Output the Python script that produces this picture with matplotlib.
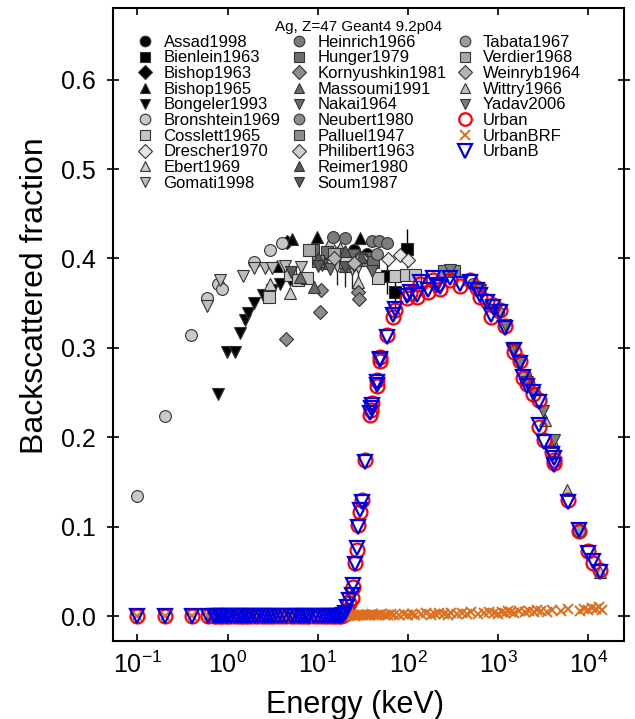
import matplotlib
matplotlib.use('Agg')
import matplotlib.pyplot as plt
from matplotlib.patches import Patch
from matplotlib.ticker import FixedLocator, NullLocator, FormatStrFormatter

plt.rcParams['font.family'] = ['Liberation Sans', 'DejaVu Sans']

# Experimental data (energy in keV, backscattered fraction)
assad_e = [25, 35]
assad_y = [0.410, 0.405]
bienlein_e = [59, 72, 97]
bienlein_y = [0.380, 0.362, 0.411]
bienlein_err = [0.020, 0.020, 0.022]
bishop63_e = [4.6]
bishop63_y = [0.418]
bishop65_e = [3.5, 5.2, 9.8, 29.6]
bishop65_y = [0.392, 0.422, 0.424, 0.423]
bongeler_e = [0.79, 0.98, 1.21, 1.38, 1.56, 1.70, 1.97, 2.49, 3.09, 3.8, 4.9]
bongeler_y = [0.249, 0.296, 0.296, 0.317, 0.331, 0.339, 0.350, 0.359, 0.365, 0.372, 0.376]
bronshtein_e = [0.1, 0.2, 0.39, 0.59, 0.78, 0.87, 1.97, 2.96, 4.0]
bronshtein_y = [0.135, 0.224, 0.314, 0.356, 0.372, 0.366, 0.396, 0.410, 0.417]
cosslett_e = [2.9, 4.9, 6.0, 7.5, 47, 72, 96, 120]
cosslett_y = [0.357, 0.381, 0.376, 0.378, 0.378, 0.380, 0.381, 0.382]
drescher_e = [60, 82, 100]
drescher_y = [0.399, 0.404, 0.398]
ebert_e = [2.96, 4.9, 13.5, 17.5, 28]
ebert_y = [0.372, 0.361, 0.418, 0.412, 0.374]
gomati_e = [0.59, 0.83, 1.47, 1.97, 2.6, 3.1, 4.3, 6.5, 16.3, 20, 23.8, 28.1]
gomati_y = [0.347, 0.376, 0.380, 0.389, 0.389, 0.389, 0.392, 0.390, 0.392, 0.390, 0.388, 0.391]
gomati_err = [0, 0, 0, 0, 0, 0, 0, 0, 0.022, 0.022, 0.022, 0.022]
heinrich_e = [14.8, 20, 39.8, 48, 58]
heinrich_y = [0.424, 0.423, 0.420, 0.419, 0.417]
hunger_e = [8.9, 12.7, 17.6, 24.7, 34.6, 41]
hunger_y = [0.409, 0.407, 0.405, 0.404, 0.400, 0.396]
kornyushkin_e = [4.5, 10.7, 10.9, 28, 28.5]
kornyushkin_y = [0.310, 0.340, 0.365, 0.363, 0.355]
massoumi_e = [6.3, 9.0, 12, 20]
massoumi_y = [0.379, 0.368, 0.395, 0.392]
nakai_e = [11, 13.5, 25, 40]
nakai_y = [0.393, 0.388, 0.392, 0.386]
neubert_e = [30, 45]
neubert_y = [0.402, 0.405]
palluel_e = [10, 20, 30, 250, 320]
palluel_y = [0.397, 0.396, 0.398, 0.386, 0.386]
philibert_e = [20, 30]
philibert_y = [0.400, 0.401]
reimer_e = [10, 20, 30]
reimer_y = [0.401, 0.408, 0.402]
soum_e = [5, 10, 20]
soum_y = [0.385, 0.392, 0.390]
tabata_e = [530, 1000, 2000, 7770]
tabata_y = [0.372, 0.340, 0.270, 0.095]
verdier_e = [8, 15]
verdier_y = [0.410, 0.405]
weinryb_e = [15, 25]
weinryb_y = [0.400, 0.395]
wittry_e = [3300, 4070, 5750, 13400]
wittry_y = [0.220, 0.195, 0.141, 0.050]
yadav_e = [295, 630, 955, 1190, 1410, 1740, 2100, 2500, 3160, 4130]
yadav_y = [0.387, 0.365, 0.342, 0.326, 0.298, 0.283, 0.262, 0.250, 0.229, 0.197]

# Geant4 Urban model results
urban_e = [0.1, 0.2, 0.4, 0.6, 0.7, 0.75, 0.8, 0.85, 0.9, 0.95,
           1.0, 1.1, 1.2, 1.3, 1.4, 1.5, 1.6, 1.7, 1.8, 2.0,
           2.2, 2.4, 2.6, 2.8, 3.0, 3.3, 3.6, 4.0, 4.5, 5.0,
           5.5, 6.0, 6.5, 7.0, 7.5, 8.0, 9.0, 10, 11, 12,
           13, 14, 15, 16, 17, 18, 19,
           20, 21, 22, 23.8, 24.8, 25.9, 27.1, 28.2, 29.4, 30.7,
           33.4, 38, 38.5, 39.8, 45, 45.5, 49, 49.5, 59, 69,
           72, 97, 105, 125, 136, 168, 190, 210, 227, 295,
           380, 484, 580, 630, 745, 836, 880, 1040, 1190, 1480,
           1755, 1900, 2070, 2460, 2800, 2870, 3180, 3950, 4150, 4200,
           6000, 7770, 10000, 11200, 13400]
urban_y = [0.0, 0.0, 0.0, 0.0, 0.0, 0.0, 0.0, 0.0, 0.0, 0.0,
           0.0, 0.0, 0.0, 0.0, 0.0, 0.0, 0.0, 0.0, 0.0, 0.0,
           0.0, 0.0, 0.0, 0.0, 0.0, 0.0, 0.0, 0.0, 0.0, 0.0,
           0.0, 0.0, 0.0, 0.0, 0.0, 0.0, 0.0, 0.0, 0.0, 0.0,
           0.0, 0.0, 0.0, 0.0, 0.0, 0.0, 0.001,
           0.003, 0.0075, 0.015, 0.021, 0.033, 0.060, 0.074, 0.102, 0.117, 0.130,
           0.175, 0.225, 0.231, 0.238, 0.257, 0.264, 0.285, 0.290, 0.314, 0.335,
           0.342, 0.356, 0.361, 0.357, 0.372, 0.363, 0.376, 0.372, 0.366, 0.376,
           0.369, 0.376, 0.367, 0.357, 0.353, 0.335, 0.348, 0.342, 0.324, 0.296,
           0.285, 0.266, 0.260, 0.249, 0.242, 0.212, 0.197, 0.184, 0.175, 0.171,
           0.130, 0.095, 0.0725, 0.060, 0.052]
urbanb_y = [0.0, 0.0, 0.0, 0.0, 0.0, 0.0, 0.0, 0.0, 0.0, 0.0,
            0.0, 0.0, 0.0, 0.0, 0.0, 0.0, 0.0, 0.0, 0.0, 0.0,
            0.0, 0.0, 0.0, 0.0, 0.0, 0.0, 0.0, 0.0, 0.0, 0.0,
            0.0, 0.0, 0.0, 0.0, 0.0, 0.0, 0.0, 0.0, 0.0, 0.0,
            0.0, 0.0, 0.0, 0.0, 0.0, 0.0, 0.001,
            0.004, 0.010, 0.018, 0.024, 0.035, 0.058, 0.076, 0.100, 0.119, 0.128,
            0.173, 0.227, 0.233, 0.236, 0.259, 0.262, 0.287, 0.288, 0.312, 0.337,
            0.344, 0.358, 0.363, 0.359, 0.374, 0.365, 0.378, 0.370, 0.368, 0.378,
            0.371, 0.374, 0.365, 0.359, 0.351, 0.337, 0.346, 0.340, 0.322, 0.298,
            0.283, 0.268, 0.258, 0.251, 0.240, 0.214, 0.195, 0.182, 0.177, 0.169,
            0.128, 0.097, 0.0705, 0.062, 0.050]

brf_e = [0.1, 0.2, 0.4, 0.6, 0.7, 0.75, 0.8, 0.85, 0.9, 0.95,
         1.0, 1.1, 1.2, 1.3, 1.4, 1.5, 1.6, 1.7, 1.8, 2.0,
         2.2, 2.4, 2.6, 2.8, 3.0, 3.3, 3.6, 4.0, 4.5, 5.0,
         5.5, 6.0, 6.5, 7.0, 7.5, 8.0, 9.0, 10, 11, 12,
         13, 14, 15, 16, 17, 18, 19,
         20, 21, 22, 23, 24, 25, 26, 27, 28, 29,
         30, 32, 34, 36, 38, 40, 42, 45, 48, 50,
         55, 60, 65, 70, 80, 90, 100, 110, 120, 140,
         160, 180, 200, 220, 250, 280, 300, 350, 400, 450,
         500, 600, 700, 800, 900, 1000, 1100, 1200, 1300, 1400,
         1500, 1700, 2000, 2200, 2500, 2700, 3000, 3500, 4000, 5000,
         6000, 8000, 9000, 10000, 11000, 12000, 13000, 14000]
brf_y = [0.0, 0.0, 0.0, 0.0, 0.0, 0.0, 0.0, 0.0, 0.0, 0.0,
         0.0, 0.0, 0.0, 0.0, 0.0, 0.0, 0.0, 0.0, 0.0, 0.0,
         0.0, 0.0, 0.0, 0.0, 0.0, 0.0, 0.0, 0.0, 0.0, 0.0,
         0.0, 0.0, 0.0, 0.0, 0.0, 0.0, 0.0, 0.0, 0.0, 0.0,
         0.0, 0.0, 0.0, 0.0, 0.0, 0.0, 0.0,
         0.000, 0.001, 0.000, 0.001, 0.002, 0.001, 0.000, 0.002, 0.001, 0.002,
         0.001, 0.002, 0.001, 0.002, 0.001, 0.003, 0.002, 0.001, 0.002, 0.003,
         0.002, 0.001, 0.003, 0.002, 0.002, 0.003, 0.001, 0.003, 0.002, 0.003,
         0.004, 0.002, 0.003, 0.004, 0.003, 0.002, 0.004, 0.003, 0.004, 0.003,
         0.005, 0.003, 0.004, 0.005, 0.004, 0.003, 0.005, 0.004, 0.006, 0.005,
         0.004, 0.006, 0.005, 0.006, 0.005, 0.007, 0.006, 0.005, 0.007, 0.006,
         0.008, 0.006, 0.008, 0.007, 0.009, 0.008, 0.010, 0.007]

# label, energies, values, marker, face colour
datasets = [
    ("Assad1998", assad_e, assad_y, "o", "black"),
    ("Bienlein1963", bienlein_e, bienlein_y, "s", "black"),
    ("Bishop1963", bishop63_e, bishop63_y, "D", "black"),
    ("Bishop1965", bishop65_e, bishop65_y, "^", "black"),
    ("Bongeler1993", bongeler_e, bongeler_y, "v", "black"),
    ("Bronshtein1969", bronshtein_e, bronshtein_y, "o", "#c8c8c8"),
    ("Cosslett1965", cosslett_e, cosslett_y, "s", "#c4c4c4"),
    ("Drescher1970", drescher_e, drescher_y, "D", "#e6e6e6"),
    ("Ebert1969", ebert_e, ebert_y, "^", "#cccccc"),
    ("Gomati1998", gomati_e, gomati_y, "v", "#bcbcbc"),
    ("Heinrich1966", heinrich_e, heinrich_y, "o", "#7c7c7c"),
    ("Hunger1979", hunger_e, hunger_y, "s", "#6c6c6c"),
    ("Kornyushkin1981", kornyushkin_e, kornyushkin_y, "D", "#8c8c8c"),
    ("Massoumi1991", massoumi_e, massoumi_y, "^", "#6c6c6c"),
    ("Nakai1964", nakai_e, nakai_y, "v", "#6c6c6c"),
    ("Neubert1980", neubert_e, neubert_y, "o", "#8c8c8c"),
    ("Palluel1947", palluel_e, palluel_y, "s", "#8c8c8c"),
    ("Philibert1963", philibert_e, philibert_y, "D", "#d0d0d0"),
    ("Reimer1980", reimer_e, reimer_y, "^", "#5a5a5a"),
    ("Soum1987", soum_e, soum_y, "v", "#5a5a5a"),
    ("Tabata1967", tabata_e, tabata_y, "o", "#9c9c9c"),
    ("Verdier1968", verdier_e, verdier_y, "s", "#a8a8a8"),
    ("Weinryb1964", weinryb_e, weinryb_y, "D", "#b4b4b4"),
    ("Wittry1966", wittry_e, wittry_y, "^", "#c0c0c0"),
    ("Yadav2006", yadav_e, yadav_y, "v", "#7c7c7c"),
]

fig = plt.figure(figsize=(6.35, 7.19), dpi=100)
ax = fig.add_axes([112.5 / 635, 1 - 640.5 / 719, 511 / 635, 632.5 / 719])

# error bars (drawn without legend entry)
ax.errorbar(bienlein_e, bienlein_y, yerr=bienlein_err, fmt='none', ecolor='black', elinewidth=1)
ax.errorbar(gomati_e, gomati_y, yerr=gomati_err, fmt='none', ecolor='#222222', elinewidth=1)

for label, e, y, m, c in datasets:
    size = 7.5 if m == "D" else 8.5
    ax.plot(e, y, linestyle='none', marker=m, ms=size, mfc=c, mec='#333333', mew=0.8, label=label)

ax.plot(urban_e, urban_y, linestyle='none', marker='o', ms=10, mfc='none', mec='red', mew=1.6, label='Urban')
ax.plot(brf_e, brf_y, linestyle='none', marker='x', ms=7.5, color='#dc6e1e', mew=1.4, label='UrbanBRF')
ax.plot(urban_e, urbanb_y, linestyle='none', marker='v', ms=10.5, mfc='none', mec='#0000e6', mew=1.6, label='UrbanB')

ax.set_xscale('log')
ax.set_xlim(0.053, 24500)
ax.set_ylim(-0.027, 0.68)
ax.xaxis.set_major_locator(FixedLocator([0.1, 1, 10, 100, 1000, 10000]))
ax.xaxis.set_minor_locator(NullLocator())
ax.set_yticks([0.0, 0.1, 0.2, 0.3, 0.4, 0.5, 0.6])
ax.yaxis.set_major_formatter(FormatStrFormatter('%.1f'))

ax.tick_params(axis='x', direction='in', top=True, length=5, width=1.2, labelsize=18, pad=8)
ax.tick_params(axis='y', direction='inout', right=True, length=8, width=1.2, labelsize=18, pad=8)
for sp in ax.spines.values():
    sp.set_linewidth(1.5)

ax.set_xlabel('Energy (keV)', fontsize=22, va='center')
ax.set_ylabel('Backscattered fraction', fontsize=23, va='center')
ax.xaxis.set_label_coords(0.475, -0.102)
ax.yaxis.set_label_coords(-0.152, 0.546)

# 29 entries -> pad with a blank one so the columns split 10/10/10
handles, labels = ax.get_legend_handles_labels()
handles.append(Patch(visible=False))
labels.append('')
ax.legend(handles, labels, ncol=3, loc='upper left', bbox_to_anchor=(0.028, 0.994), frameon=False,
          fontsize=12, title='Ag, Z=47 Geant4 9.2p04', title_fontsize=11,
          handlelength=1.2, handletextpad=0.5, columnspacing=0.5,
          labelspacing=0.04, borderpad=0.0, markerscale=0.9)

plt.savefig('out.png', dpi=100)
